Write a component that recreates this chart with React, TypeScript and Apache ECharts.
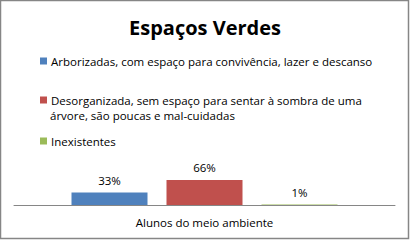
import React, { useEffect, useRef } from "react";
import * as echarts from "echarts";

const title = "Espaços Verdes";
const categories = ["Alunos do meio ambiente"];
const seriesNames = [
  "Arborizadas, com espaço para convivência, lazer e descanso",
  "Desorganizada, sem espaço para sentar à sombra de uma árvore, são poucas e mal-cuidadas",
  "Inexistentes",
];
const seriesValues = [[0.33], [0.66], [0.01]];
const seriesColors = ["#4F81BD", "#C0504D", "#9BBB59"];
const legendLine1 = [
  "Arborizadas, com espaço para convivência, lazer e descanso",
  "Desorganizada, sem espaço para sentar à sombra de uma",
  "Inexistentes",
];
const legendLine2 = "árvore, são poucas e mal-cuidadas";

const FONT = "Open Sans";
const FS = 11.5;

export default function App() {
  const ref = useRef<HTMLDivElement>(null);
  useEffect(() => {
    const chart = echarts.init(ref.current!, null, { renderer: "svg" });
    const legendTops = [55, 94, 135];
    chart.setOption({
      animation: false,
      backgroundColor: "#ffffff",
      title: {
        text: title,
        left: "center",
        top: 12,
        textStyle: { fontFamily: FONT, fontSize: 20, fontWeight: "bold", color: "#000" },
      },
      legend: seriesNames.map((n, i) => ({
        data: [n],
        orient: "vertical",
        left: 40,
        top: legendTops[i],
        padding: 0,
        itemWidth: 7,
        itemHeight: 7,
        itemGap: 4,
        icon: "rect",
        selectedMode: false,
        formatter: () => legendLine1[i],
        textStyle: { fontFamily: FONT, fontSize: FS, color: "#000", padding: [0, 0, 0, -1] },
      })),
      graphic: [
        {
          type: "rect",
          shape: { x: 0.5, y: 0.5, width: 408, height: 238 },
          style: { fill: "none", stroke: "#868686", lineWidth: 1.5 },
          silent: true,
        },
        {
          type: "text",
          left: 50,
          top: 109,
          style: { text: legendLine2, font: `${FS}px ${FONT}`, fill: "#000" },
        },
      ],
      grid: { left: 14, right: 15, top: 167, bottom: 35, containLabel: false },
      xAxis: {
        type: "category",
        data: categories,
        axisLine: { lineStyle: { color: "#868686" } },
        axisTick: { show: false },
        axisLabel: { fontFamily: FONT, fontSize: FS, color: "#000", margin: 11 },
      },
      yAxis: {
        type: "value",
        min: 0,
        max: 1,
        show: false,
        splitLine: { show: false },
      },
      series: seriesNames.map((n, i) => ({
        name: n,
        type: "bar",
        data: seriesValues[i],
        barWidth: 76,
        barGap: "25%",
        itemStyle: { color: seriesColors[i] },
        label: {
          show: true,
          position: "top",
          distance: 6,
          formatter: (p: any) => Math.round(p.value * 100) + "%",
          fontFamily: FONT,
          fontSize: FS,
          color: "#000",
        },
      })),
    });
    return () => chart.dispose();
  }, []);
  return (
    <div
      ref={ref}
      style={{ position: "fixed", left: 0, top: 0, width: 410, height: 240 }}
    />
  );
}
